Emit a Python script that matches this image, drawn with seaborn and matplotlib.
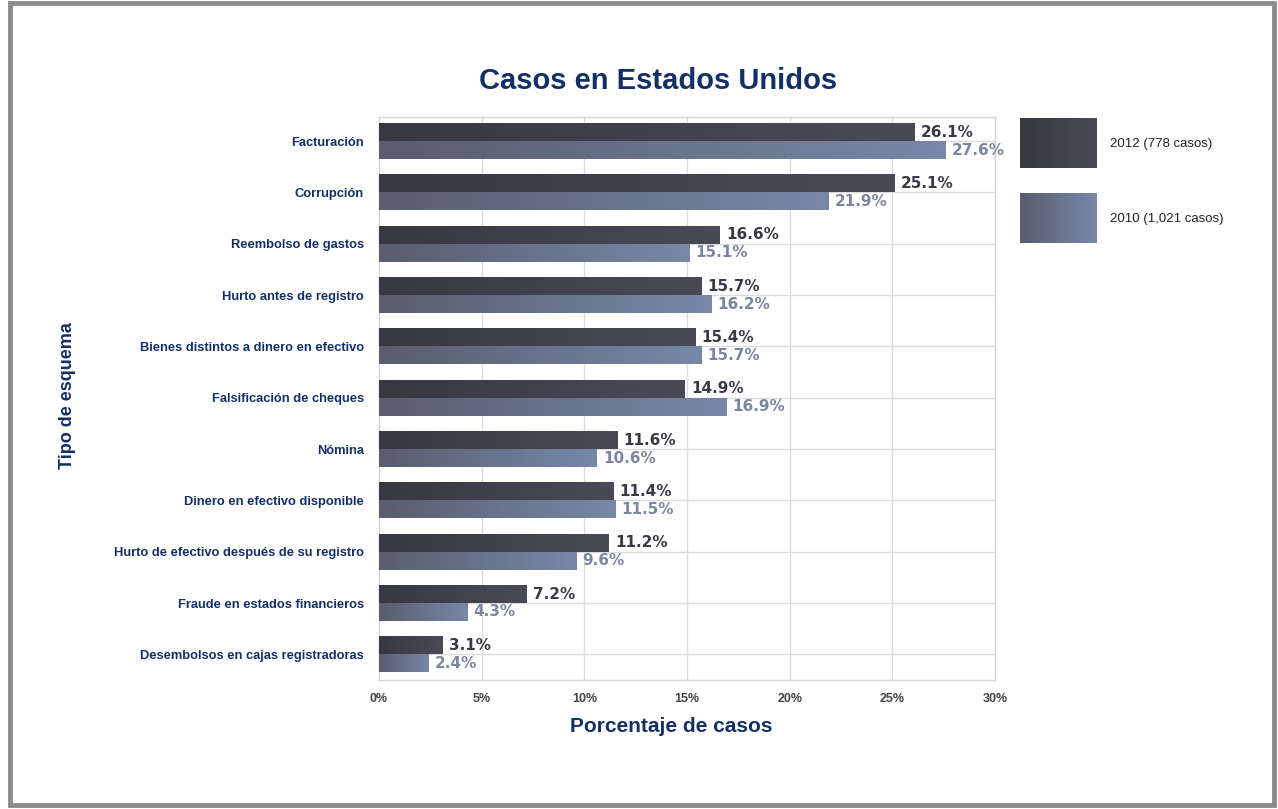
import numpy as np
import pandas as pd
import matplotlib
matplotlib.use("Agg")
import matplotlib.pyplot as plt
from matplotlib.colors import LinearSegmentedColormap
from matplotlib.patches import Rectangle
import seaborn as sns

categories = [
    "Facturación",
    "Corrupción",
    "Reembolso de gastos",
    "Hurto antes de registro",
    "Bienes distintos a dinero en efectivo",
    "Falsificación de cheques",
    "Nómina",
    "Dinero en efectivo disponible",
    "Hurto de efectivo después de su registro",
    "Fraude en estados financieros",
    "Desembolsos en cajas registradoras",
]
values_2012 = [26.1, 25.1, 16.6, 15.7, 15.4, 14.9, 11.6, 11.4, 11.2, 7.2, 3.1]
values_2010 = [27.6, 21.9, 15.1, 16.2, 15.7, 16.9, 10.6, 11.5, 9.6, 4.3, 2.4]
series_names = ["2012 (778 casos)", "2010 (1,021 casos)"]
x_ticks = [0, 5, 10, 15, 20, 25, 30]

NAVY = "#123066"
ARIAL = ["Liberation Sans", "DejaVu Sans"]
WIDE = ["DejaVu Sans"]

grad_colors = {
    series_names[0]: ("#383843", "#4a4a57"),
    series_names[1]: ("#595d6d", "#7788a9"),
}
label_colors = {series_names[0]: "#3a3a46", series_names[1]: "#7c86a0"}

df = pd.DataFrame({
    "categoria": categories * 2,
    "valor": values_2012 + values_2010,
    "serie": [series_names[0]] * len(categories) + [series_names[1]] * len(categories),
})

sns.set_theme(style="white")
plt.rcParams["font.family"] = ARIAL

fig = plt.figure(figsize=(12.78, 8.09), dpi=100)

# outer gray frame around the whole graphic
fig.patches.append(Rectangle((10 / 1278, 4 / 809), 1264 / 1278, 802 / 809,
                             transform=fig.transFigure, fill=False,
                             edgecolor="#8c8c8c", linewidth=3.5, zorder=0))

ax = fig.add_axes([379 / 1278, 1 - 680 / 809, (995 - 379) / 1278, (680 - 117) / 809])

sns.barplot(data=df, y="categoria", x="valor", hue="serie", hue_order=series_names,
            order=categories, orient="h", width=0.7, ax=ax, legend=False,
            palette=[grad_colors[s][0] for s in series_names], saturation=1,
            edgecolor="none", linewidth=0, zorder=3)

# horizontal colour gradient inside every bar
grad = np.linspace(0, 1, 256).reshape(1, -1)
for cont, name in zip(ax.containers, series_names):
    cmap = LinearSegmentedColormap.from_list(name, grad_colors[name])
    for bar in cont:
        x0, y0 = bar.get_x(), bar.get_y()
        w, h = bar.get_width(), bar.get_height()
        im = ax.imshow(grad, cmap=cmap, aspect="auto", extent=[x0, x0 + w, y0 + h, y0],
                       zorder=4, interpolation="bicubic")
        im.set_clip_path(bar)
    # value labels at the end of each bar
    for bar in cont:
        w = bar.get_width()
        yc = bar.get_y() + bar.get_height() / 2
        ax.text(w + 0.3, yc, f"{w:.1f}%", ha="left", va="center",
                fontsize=11, fontweight="bold", color=label_colors[name],
                family=WIDE, zorder=6)

ax.set_xlim(0, 30)
ax.set_ylim(len(categories) - 0.5, -0.47)
ax.set_xticks(x_ticks)
ax.set_xticklabels([f"{t}%" for t in x_ticks], fontsize=9,
                   fontweight="bold", color="#444444")
ax.set_yticks(range(len(categories)))
ax.set_yticklabels(categories, fontsize=9.3, fontweight="bold", color=NAVY)
ax.tick_params(axis="both", length=0)
ax.tick_params(axis="x", pad=9)
ax.tick_params(axis="y", pad=11)

ax.grid(True, axis="both", color="#dcdcdc", linewidth=1, zorder=0)
ax.set_axisbelow(True)
for sp in ax.spines.values():
    sp.set_color("#d6d6d6")
    sp.set_linewidth(1)

ax.set_xlabel("")
ax.set_ylabel("")

fig.text(658 / 1278, 1 - 81 / 809, "Casos en Estados Unidos", ha="center", va="center",
         fontsize=21, fontweight="bold", color=NAVY)
fig.text(671 / 1278, 1 - 726 / 809, "Porcentaje de casos", ha="center", va="center",
         fontsize=15, fontweight="bold", color=NAVY)
fig.text(68 / 1278, 1 - 396 / 809, "Tipo de esquema", ha="center", va="center",
         rotation=90, fontsize=13, fontweight="bold", color=NAVY)

# legend swatches with the same gradients
for i, name in enumerate(series_names):
    top = 118 + i * 75
    lax = fig.add_axes([1020 / 1278, 1 - (top + 50) / 809, 77 / 1278, 50 / 809])
    cmap = LinearSegmentedColormap.from_list(name + "_leg", grad_colors[name])
    lax.imshow(grad, cmap=cmap, aspect="auto", interpolation="bicubic")
    lax.set_axis_off()
    fig.text(1110 / 1278, 1 - (top + 26) / 809, name, ha="left", va="center",
             fontsize=9.5, color="#222222")

fig.savefig("out.png", dpi=100, facecolor="white")
